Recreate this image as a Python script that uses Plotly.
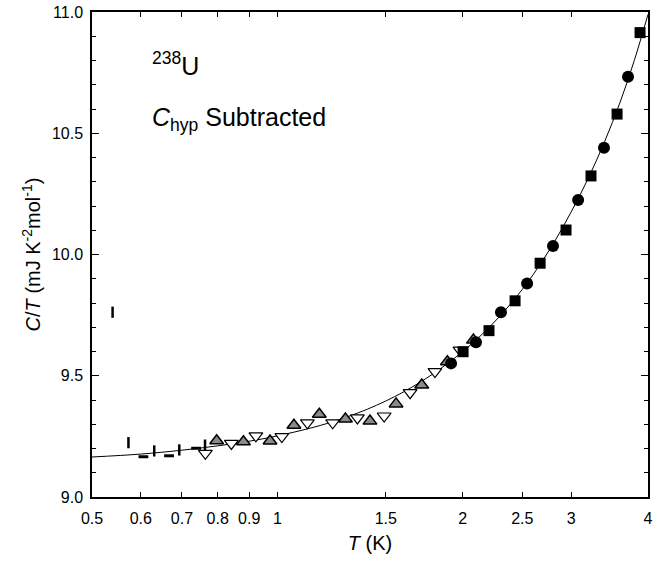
import plotly.graph_objects as go

# --- data ---
sq_T = [3.883, 3.563, 3.232, 2.944, 2.672, 2.433, 2.207, 2.003]
sq_C = [10.915, 10.579, 10.324, 10.101, 9.964, 9.809, 9.686, 9.599]

ci_T = [3.712, 3.393, 3.080, 2.804, 2.545, 2.308, 2.102, 1.915]
ci_C = [10.733, 10.440, 10.225, 10.035, 9.880, 9.762, 9.638, 9.551]

tu_T = [0.797, 0.881, 0.973, 1.064, 1.170, 1.290, 1.414, 1.559, 1.716, 1.889, 2.082]
tu_C = [9.232, 9.228, 9.231, 9.296, 9.341, 9.322, 9.313, 9.384, 9.462, 9.558, 9.647]

td_T = [0.764, 0.842, 0.923, 1.017, 1.119, 1.230, 1.349, 1.491, 1.643, 1.803, 1.980]
td_C = [9.180, 9.221, 9.252, 9.249, 9.306, 9.306, 9.326, 9.334, 9.430, 9.517, 9.606]

bar_T = [0.540, 0.573, 0.631, 0.693, 0.763]
bar_C = [9.762, 9.224, 9.190, 9.194, 9.214]

dash_T = [0.606, 0.667, 0.738]
dash_C = [9.166, 9.170, 9.201]

fit_T = [0.5, 0.6, 0.7, 0.8, 0.9, 1.0, 1.2, 1.4, 1.6, 1.8, 2.0, 2.2, 2.4, 2.6,
         2.8, 3.0, 3.2, 3.4, 3.6, 3.8, 4.0]
fit_C = [9.165, 9.177, 9.193, 9.211, 9.230, 9.252, 9.302, 9.362, 9.432, 9.512,
         9.599, 9.695, 9.800, 9.915, 10.040, 10.175, 10.315, 10.465, 10.625,
         10.800, 10.990]

x_ticks = [0.5, 0.6, 0.7, 0.8, 0.9, 1, 1.5, 2, 2.5, 3, 4]
x_labels = ["0.5", "0.6", "0.7", "0.8", "0.9", "1", "1.5", "2", "2.5", "3", "4"]
y_ticks = [9.0, 9.5, 10.0, 10.5, 11.0]
y_labels = ["9.0", "9.5", "10.0", "10.5", "11.0"]

fig = go.Figure()

fig.add_trace(go.Scatter(x=fit_T, y=fit_C, mode="lines", line=dict(color="black", width=1, shape="spline"),
                         showlegend=False, hoverinfo="skip"))

fig.add_trace(go.Scatter(x=bar_T, y=bar_C, mode="markers",
                         marker=dict(symbol="line-ns", size=8, line=dict(color="black", width=2.5)),
                         showlegend=False))
fig.add_trace(go.Scatter(x=dash_T, y=dash_C, mode="markers",
                         marker=dict(symbol="line-ew", size=7, line=dict(color="black", width=3)),
                         showlegend=False))

fig.add_trace(go.Scatter(x=td_T, y=td_C, mode="markers",
                         marker=dict(symbol="triangle-down", size=12, color="white",
                                     line=dict(color="black", width=1.2)),
                         showlegend=False))
fig.add_trace(go.Scatter(x=tu_T, y=tu_C, mode="markers",
                         marker=dict(symbol="triangle-up", size=12, color="#8a8a8a",
                                     line=dict(color="black", width=1.5)),
                         showlegend=False))
fig.add_trace(go.Scatter(x=ci_T, y=ci_C, mode="markers",
                         marker=dict(symbol="circle", size=12, color="black"),
                         showlegend=False))
fig.add_trace(go.Scatter(x=sq_T, y=sq_C, mode="markers",
                         marker=dict(symbol="square", size=11, color="black"),
                         showlegend=False))

font = "Liberation Sans, Arial, sans-serif"

fig.update_xaxes(type="log", range=[-0.30103, 0.60206], automargin=False,
                 tickvals=x_ticks, ticktext=x_labels,
                 ticks="inside", ticklen=5, tickwidth=1, tickcolor="black",
                 ticklabelstandoff=6, ticklabeloverflow="allow",
                 showline=True, linecolor="black", linewidth=1.5, mirror="ticks",
                 showgrid=False, zeroline=False,
                 tickfont=dict(size=16, color="black", family=font),
                 title=dict(text="<i>T</i> (K)", font=dict(size=20, color="black", family=font), standoff=10))
fig.update_yaxes(range=[9.0, 11.0], automargin=False,
                 tickvals=y_ticks, ticktext=y_labels,
                 ticks="inside", ticklen=7, tickwidth=1, tickcolor="black",
                 ticklabelstandoff=4, ticklabeloverflow="allow",
                 minor=dict(dtick=0.1, ticks="inside", ticklen=4, tickcolor="black", tickwidth=1, showgrid=False),
                 showline=True, linecolor="black", linewidth=1.5, mirror="ticks",
                 showgrid=False, zeroline=False,
                 tickfont=dict(size=16, color="black", family=font),
                 title=dict(text="<i>C</i>/<i>T</i> (mJ K<sup>-2</sup>mol<sup>-1</sup>)",
                            font=dict(size=20, color="black", family=font), standoff=6))

fig.add_annotation(x=0.105, y=0.893, xref="paper", yref="paper", xanchor="left", yanchor="middle",
                   text="<sup>238</sup>U", showarrow=False, font=dict(size=25, color="black", family=font))
fig.add_annotation(x=0.105, y=0.779, xref="paper", yref="paper", xanchor="left", yanchor="middle",
                   text="<i>C</i><sub>hyp</sub> Subtracted", showarrow=False,
                   font=dict(size=25, color="black", family=font))

fig.update_layout(width=670, height=564, margin=dict(l=92, r=22, t=12, b=67),
                  plot_bgcolor="white", paper_bgcolor="white", showlegend=False)

fig.write_html("out.html", config={"displayModeBar": False},
               post_script="document.body.style.margin='0';")
